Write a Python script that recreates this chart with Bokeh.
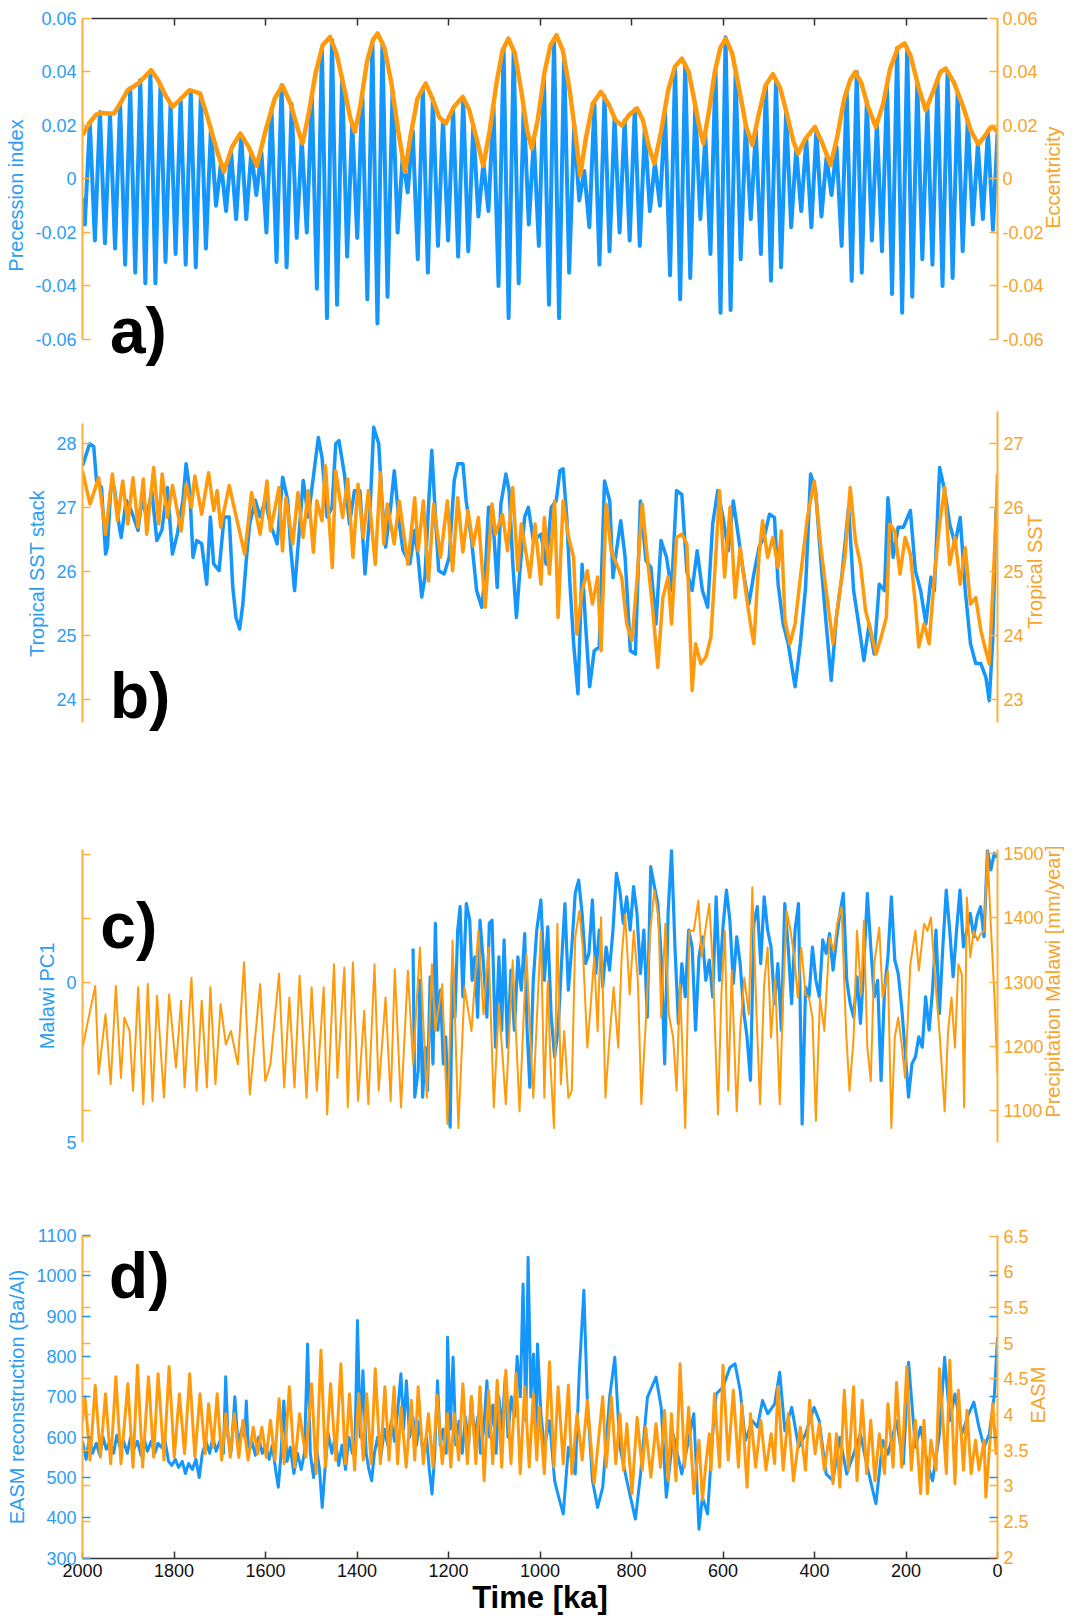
import math
import numpy as np
from bokeh.plotting import figure
from bokeh.models import Range1d, LinearAxis, FixedTicker, Label
from bokeh.layouts import column
from bokeh.embed import file_html
from bokeh.resources import INLINE

# ---------------------------------------------------------------- data
time_ticks = [2000, 1800, 1600, 1400, 1200, 1000, 800, 600, 400, 200, 0]

# a) eccentricity (ka, value)
ecc_t = [2000,1985,1970,1961,1945,1931,1915,1901,1878,1865,1850,1835,1818,1803,1785,1766,1743,1725,1705,1691,
         1673,1655,1637,1619,1600,1580,1563,1545,1530,1519,1505,1490,1475,1459,1445,1428,1415,1405,1393,1378,
         1365,1355,1340,1325,1310,1295,1283,1268,1250,1235,1220,1206,1188,1169,1155,1140,1124,1110,1095,1082,
         1069,1055,1040,1028,1018,1005,990,977,964,950,935,922,912,900,885,867,850,835,821,805,
         788,775,762,750,735,720,705,690,675,660,650,643,630,618,606,594,580,565,550,536,
         522,507,491,475,460,446,436,420,399,382,365,350,335,322,311,298,283,266,250,235,
         218,203,190,172,157,140,125,113,95,75,58,42,28,15,10,0]
ecc_v = [0.0164,0.021,0.024,0.0248,0.0245,0.0245,0.029,0.0332,0.0357,0.038,0.0407,0.037,0.031,0.027,0.030,0.0332,0.032,0.022,0.010,0.0027,
         0.012,0.017,0.012,0.0049,0.018,0.030,0.035,0.028,0.019,0.0133,0.025,0.040,0.050,0.0531,0.047,0.034,0.023,0.0176,0.027,0.044,
         0.052,0.0544,0.049,0.036,0.018,0.0027,0.016,0.030,0.0357,0.030,0.023,0.0207,0.027,0.0307,0.026,0.016,0.0049,0.018,0.036,0.048,
         0.0525,0.047,0.032,0.018,0.0114,0.022,0.040,0.050,0.0538,0.048,0.033,0.016,0.0014,0.015,0.028,0.0326,0.028,0.022,0.020,0.024,
         0.0264,0.022,0.012,0.0058,0.018,0.033,0.042,0.045,0.040,0.027,0.018,0.0133,0.026,0.040,0.049,0.0525,0.047,0.034,0.020,0.0127,
         0.024,0.035,0.0392,0.034,0.024,0.014,0.0095,0.015,0.0195,0.013,0.0052,0.016,0.030,0.037,0.040,0.036,0.027,0.0195,0.028,0.041,
         0.049,0.0507,0.046,0.034,0.0257,0.033,0.040,0.0413,0.036,0.027,0.018,0.013,0.016,0.0193,0.0195,0.0176]

# a) precession index: successive extremes, sampled every half cycle from 1995 ka to 10 ka
prec_sample_t = list(np.linspace(1995.0, 9.9, 181))
prec_v = [-0.017,0.021,-0.023,0.025,-0.024,0.024,-0.026,0.028,-0.032,0.034,
          -0.035,0.037,-0.039,0.040,-0.039,0.035,-0.031,0.028,-0.028,0.030,
          -0.032,0.033,-0.033,0.031,-0.026,0.019,-0.010,0.006,-0.012,0.010,
          -0.015,0.016,-0.015,0.010,-0.006,0.010,-0.020,0.026,-0.031,0.035,
          -0.033,0.028,-0.022,0.015,-0.020,0.031,-0.041,0.049,-0.052,0.052,
          -0.047,0.038,-0.029,0.021,-0.022,0.032,-0.045,0.051,-0.054,0.051,
          -0.044,0.033,-0.020,0.008,-0.005,0.018,-0.030,0.034,-0.035,0.030,
          -0.025,0.022,-0.023,0.026,-0.029,0.030,-0.027,0.020,-0.014,0.006,
          -0.012,0.027,-0.040,0.049,-0.052,0.048,-0.039,0.027,-0.017,0.015,
          -0.025,0.038,-0.047,0.052,-0.052,0.046,-0.035,0.020,-0.008,0.003,
          -0.018,0.028,-0.032,0.031,-0.027,0.023,-0.020,0.022,-0.023,0.026,
          -0.025,0.019,-0.012,0.006,-0.010,0.025,-0.036,0.042,-0.045,0.043,
          -0.037,0.027,-0.015,0.016,-0.028,0.041,-0.050,0.053,-0.049,0.040,
          -0.030,0.020,-0.015,0.018,-0.028,0.035,-0.038,0.037,-0.033,0.025,
          -0.018,0.011,-0.012,0.015,-0.018,0.018,-0.014,0.008,-0.006,0.012,
          -0.025,0.033,-0.038,0.040,-0.035,0.029,-0.023,0.021,-0.027,0.035,
          -0.043,0.049,-0.050,0.049,-0.044,0.036,-0.030,0.027,-0.032,0.037,
          -0.040,0.040,-0.037,0.032,-0.027,0.022,-0.017,0.013,-0.015,0.018,
          -0.019]
prec_t = [2000.0] + prec_sample_t + [0.0]
prec_y = [-0.007] + prec_v + [0.017]

# b) tropical SST stack (left axis) and tropical SST (right axis), (ka, degC)
sst_stack = [(2000,27.65),(1984.5,27.99),(1975.5,27.95),(1969.5,27.42),(1958.5,27.31),(1949.5,26.27),(1945.5,26.38),
             (1938.5,27.26),(1930.5,27.31),(1919.5,26.69),(1915.5,26.53),(1904.5,27.11),(1893.5,26.95),(1878.5,26.64),
             (1870.5,27.11),(1859.5,26.85),(1848.5,27.26),(1837.5,26.48),(1826.5,26.64),(1814.5,27.31),(1803.5,26.27),
             (1792.5,26.59),(1780.5,27.11),(1773.5,27.68),(1765.5,27.26),(1758.5,26.22),(1750.5,26.48),(1739.5,26.43),
             (1728.5,25.80),(1720.5,26.85),(1713.5,26.12),(1701.5,26.01),(1690.5,26.85),(1679.5,26.85),(1671.5,25.75),
             (1664.5,25.28),(1656.5,25.10),(1649.5,25.49),(1641.5,26.22),(1634.5,26.74),(1622.5,27.11),(1611.5,26.85),
             (1600.5,27.11),(1589.5,26.74),(1574.5,26.43),(1562.5,27.47),(1551.5,27.11),(1544.5,26.33),(1536.5,25.70),
             (1529.5,26.33),(1517.5,27.42),(1506.5,26.85),(1495.5,27.47),(1484.5,28.09),(1476.5,27.78),(1465.5,26.85),
             (1454.5,27.00),(1446.5,27.99),(1439.5,28.04),(1427.5,27.52),(1416.5,26.74),(1405.5,27.26),(1393.5,27.26),
             (1382.5,25.96),(1371.5,26.95),(1363.5,28.25),(1352.5,27.99),(1345.5,27.11),(1337.5,26.38),(1326.5,27.00),
             (1318.5,27.57),(1307.5,26.74),(1299.5,26.33),(1284.5,26.12),(1273.5,26.64),(1266.5,26.22),(1258.5,25.60),
             (1251.5,25.91),(1243.5,27.05),(1236.5,27.89),(1228.5,26.85),(1221.5,26.01),(1209.5,25.96),(1198.5,26.22),
             (1187.5,27.42),(1179.5,27.68),(1168.5,27.68),(1161.5,27.11),(1149.5,26.48),(1138.5,25.70),(1127.5,25.44),
             (1119.5,25.96),(1112.5,27.00),(1104.5,27.00),(1093.5,25.75),(1085.5,27.05),(1074.5,27.52),(1067.5,27.26),
             (1059.5,26.12),(1051.5,25.28),(1044.5,25.96),(1033.5,26.85),(1025.5,27.00),(1014.5,26.48),(1006,26.53),
             (998,26.58),(986.5,26.11),(975.5,27.00),(964.5,27.10),(956.5,27.57),(949.5,27.60),(941.5,26.84),(934.5,25.80),
             (926.5,24.87),(917,24.09),(908,26.11),(900.5,25.18),(891.5,24.20),(881.5,24.76),(870.5,24.82),(859,27.41),
             (847.5,27.10),(840.5,25.90),(833,26.32),(823.5,26.79),(814,26.22),(802.5,24.76),(791.5,24.71),(780.5,27.10),
             (768.5,26.17),(757.5,26.06),(746.5,25.18),(735.5,26.48),(723.5,26.22),(712.5,25.70),(701.5,27.26),(690,27.20),
             (679,26.00),(667.5,25.70),(656.5,26.32),(645,25.70),(633.5,25.44),(622.5,26.74),(611.5,27.26),(600,26.84),
             (588.5,26.32),(577.5,27.10),(566,26.53),(555,25.96),(543.5,25.49),(532.5,25.96),(521,26.38),(510,26.53),
             (498.5,26.89),(487.5,26.84),(479.5,25.80),(468.5,25.18),(457.5,24.87),(442.5,24.20),(431,24.87),(419.5,25.75),
             (408.5,27.52),(397.5,27.26),(385.5,26.11),(374.5,25.18),(363.5,24.30),(352,25.29),(340.5,25.91),(325.5,27.00),
             (314.5,25.70),(303.5,25.18),(292,24.61),(280.5,25.18),(269.5,24.71),(258.5,25.80),(247,25.70),(239.5,27.15),
             (228,26.22),(217,26.69),(205.5,26.69),(190.5,26.95),(179.5,26.01),(168,25.70),(156.5,25.18),(145.5,25.91),
             (138,25.70),(126.5,27.62),(115.5,27.26),(104.5,26.74),(93,26.43),(81.5,26.84),(70.5,25.70),(59,24.87),
             (47.5,24.56),(36.5,24.56),(25.5,24.35),(18,23.98),(10.5,24.92),(3,26.95),(0,26.43)]
sst_model = [(2000,26.57),(1983.5,26.05),(1964.7,26.46),(1949.7,25.58),(1934.7,26.52),(1923.4,25.79),(1912.1,26.41),
             (1900.9,25.74),(1889.6,26.46),(1878.3,25.69),(1867.1,26.44),(1859.6,25.58),(1844.5,26.62),(1833.3,25.74),
             (1825.8,26.52),(1814.5,25.84),(1803.2,26.34),(1784.5,25.63),(1773.2,26.36),(1762.0,26.00),(1754.4,26.49),
             (1739.4,25.89),(1724.4,26.54),(1713.1,25.95),(1705.6,26.26),(1698.1,25.69),(1679.3,26.34),(1660.5,25.74),
             (1645.5,25.27),(1630.5,26.23),(1611.7,25.58),(1596.7,26.41),(1589.2,25.63),(1570.4,26.31),(1562.9,25.32),
             (1555.4,26.15),(1540.4,25.43),(1529.1,26.23),(1517.8,25.53),(1506.6,26.26),(1495.3,25.30),(1487.8,26.10),
             (1476.5,25.79),(1469.0,26.65),(1454.0,25.06),(1446.5,26.57),(1431.5,25.84),(1420.2,26.44),(1408.9,25.22),
             (1397.7,26.36),(1386.4,25.53),(1375.1,26.26),(1360.1,25.11),(1348.9,26.54),(1341.4,25.43),(1333.8,26.05),
             (1318.8,25.43),(1307.6,26.10),(1288.8,25.11),(1273.8,26.15),(1266.3,25.32),(1255.0,26.10),(1243.7,24.85),
             (1232.5,26.05),(1217.4,25.22),(1202.4,26.10),(1191.1,25.01),(1179.9,26.15),(1168.6,25.30),(1157.3,25.95),
             (1146.1,25.40),(1134.8,25.84),(1119.8,24.44),(1104.8,26.05),(1097.3,25.58),(1082.2,25.89),(1071.0,25.32),
             (1059.7,26.31),(1048.4,25.01),(1040.9,25.74),(1022.1,24.91),(1010.9,25.74),
             (998,24.80),(990.5,25.84),(979.5,24.96),(968,26.10),(960.5,24.28),(949.5,26.10),(937.5,25.53),(926.5,25.22),
             (919.5,24.02),(908,24.70),(896.5,25.01),(885.5,24.49),(874,24.91),(866.5,23.76),(855.5,26.05),(844.5,25.32),
             (832.5,25.11),(821.5,24.91),(810.5,24.18),(799,23.92),(787.5,24.91),(776.5,26.05),(765.5,25.22),(754,24.44),
             (742.5,23.50),(731.5,24.59),(720,24.91),(712.5,24.18),(701.5,25.53),(690,25.58),(679,25.43),(667.5,23.14),
             (660,23.87),(648.5,23.56),(637.5,23.66),(626.5,23.97),(618.5,24.91),(607.5,26.26),(596.5,24.91),(584.5,26.00),
             (573.5,24.59),(562.5,25.37),(551.5,24.75),(540,24.18),(532.5,23.87),(521,25.27),(513.5,25.79),(502.5,25.22),
             (491,25.53),(479.5,25.06),(472.5,25.63),(464.5,24.23),(453.5,23.87),(442.5,24.18),(427.5,25.11),(415.5,25.84),
             (400.5,26.41),(386,25.37),(374.5,24.70),(359.5,23.87),(344.5,24.70),(333.5,25.22),(322,26.31),(310.5,25.48),
             (299.5,25.11),(288.5,24.39),(277.5,24.08),(265.5,23.71),(254.5,23.97),(243,24.28),(235.5,25.74),(224.5,25.63),
             (213,24.96),(202,25.53),(190.5,25.27),(179.5,24.49),(172,23.82),(160.5,24.18),(149.5,23.87),(138,24.91),
             (126.5,25.74),(115.5,26.31),(104.5,25.11),(93,25.53),(81.5,24.80),(70.5,25.37),(59,24.49),(47.5,24.59),
             (36.5,24.08),(25.5,23.76),(18,23.56),(10.5,24.70),(3,25.84),(0,26.52)]

# c) Malawi PC1 (left axis, reversed) and precipitation Malawi (right axis, mm/year)
malawi_pc1 = [(1277.5,-1.05),(1273.8,3.59),(1266.2,2.76),(1262.5,-0.06),(1256.5,3.59),(1251.2,2.03),(1246,3.38),
              (1240,-0.17),(1234,2.55),(1228.7,-1.84),(1223.4,1.50),(1217.4,0.25),(1211.4,2.55),(1206.2,1.71),
              (1200.9,3.59),(1196.4,4.53),(1191.1,-0.48),(1185.9,1.09),(1179.9,-1.63),(1174.6,-2.36),(1168.6,0.46),
              (1161.1,-2.46),(1153.6,-1.94),(1148.3,-0.06),(1142.3,-0.79),(1136.3,1.09),(1131.1,-1.94),(1123.6,-0.58),
              (1116.1,1.09),(1110.8,-1.84),(1104.8,-1.94),(1097.3,2.03),(1089.8,-0.79),(1083.8,1.50),(1078.5,-1.32),
              (1071,2.03),(1063.5,-0.38),(1056,1.50),(1048.4,-0.79),(1040.9,0.25),(1033.4,-1.52),(1028.2,1.50),
              (1022.2,3.28),(1014.7,-0.06),(1007.1,-1.63),
              (998,-2.57),(990.5,-0.06),(983,-1.73),(975.5,1.09),(968,2.34),(960.5,1.50),(953,-0.58),(945.5,-2.46),
              (938,0.25),(930.5,-1.10),(923,-2.78),(915.5,-3.19),(908,-2.15),(900.5,-0.58),(893,-0.90),(885.5,-2.57),
              (878,-0.27),(870.5,-1.63),(863,0.15),(855.5,-1.10),(848,-0.38),(840.5,-1.63),(833,-3.40),(825.5,-2.88),
              (818,-1.84),(810.5,-2.67),(803,-1.63),(795.5,-2.99),(788,-2.15),(780.5,-0.27),(773,-1.63),(765.5,1.09),
              (758,-3.61),(750,-2.99),(742.5,-2.46),(735,-0.79),(727.5,2.55),(720,-2.15),(712.5,-4.13),(705,-1.10),
              (697.5,1.29),(690,-0.58),(682.5,0.46),(675,-1.63),(667.5,-1.10),(660,1.50),(652.5,-0.79),(645,-1.42),
              (637.5,-0.06),(630,-0.69),(622.5,0.46),(615,-2.67),(607.5,-0.06),(600,-1.73),(592.5,-2.88),(585,-1.94),
              (577.5,0.04),(570,-1.42),(562.5,-0.58),(555,0.88),(547.5,1.71),(540,3.07),(532.5,-1.84),(525,-2.36),
              (517.5,-0.58),(510,-2.67),(502.5,-1.63),(495,-1.10),(487.5,0.67),(480,-0.58),(472.5,1.50),(465,-2.46),
              (457.5,-1.10),(450,0.67),(442.5,-1.63),(435,-2.46),(427,4.43),(419.5,0.15),(412,0.46),(404.5,-1.10),
              (397,-0.06),(389.5,0.46),(382,-1.32),(374.5,-0.90),(367,-1.52),(359.5,-0.38),(352,-1.32),(344.5,-2.15),
              (337,-2.78),(329.5,-0.06),(322,0.67),(314.5,1.09),(307,-0.17),(299.5,1.29),(292,-0.58),(284.5,-2.78),
              (277,-1.10),(269.5,0.46),(262,-0.06),(254.5,3.07),(247,0.25),(239.5,-0.79),(232,-2.67),(224.5,-0.69),
              (217,-0.27),(209.5,0.77),(202,2.13),(194.5,3.59),(187,2.55),(179.5,2.34),(172,1.71),(164.5,2.03),
              (157,0.46),(149.5,1.50),(142,0.25),(134.5,-1.63),(127,0.98),(119.5,-1.10),(112,-2.88),(104.5,-1.63),
              (97,-0.17),(89.5,-1.63),(82,-2.88),(74.5,-1.10),(67,-1.63),(59.5,-2.15),(52,-1.42),(44.5,-2.05),
              (37,-2.36),(29.5,-1.42),(22,-4.13),(14.5,-3.51),(7,-4.03),(0,-3.9)]
malawi_precip = [(2000,1198),(1972.2,1294),(1964.7,1157),(1949.7,1250),(1938.4,1141),(1927.1,1294),(1915.9,1151),
                 (1908.4,1245),(1897.1,1224),(1889.6,1131),(1878.3,1292),(1867.1,1110),(1857.3,1297),(1846.8,1115),
                 (1837.0,1279),(1822.0,1120),(1810.7,1281),(1795.7,1167),(1784.5,1271),(1776.9,1136),(1761.9,1307),
                 (1750.7,1131),(1739.4,1271),(1728.1,1136),(1720.6,1292),(1709.4,1141),(1698.1,1266),(1686.8,1203),
                 (1675.6,1224),(1660.5,1172),(1647.0,1331),(1634.3,1125),(1611.7,1297),(1600.5,1146),(1589.2,1172),
                 (1570.4,1313),(1559.2,1136),(1547.9,1276),(1536.6,1136),(1525.4,1310),(1510.3,1120),(1499.1,1292),
                 (1487.8,1131),(1472.8,1292),(1465.3,1094),(1450.3,1328),(1442.8,1151),(1427.7,1323),(1420.2,1105),
                 (1408.9,1331),(1397.7,1115),(1384.2,1255),(1375.2,1110),(1361.7,1328),(1352.6,1131),(1337.6,1276),
                 (1326.4,1115),(1317.4,1320),(1303.8,1105),(1288.8,1318),(1277.5,1172),(1262.5,1354),(1247.5,1120),
                 (1236.3,1328),(1228.8,1224),(1213.7,1297),(1202.4,1079),(1191.1,1365),(1178.4,1073),(1164.9,1292),
                 (1149.8,1224),(1134.8,1380),(1123.6,1250),(1112.3,1354),(1101.0,1105),(1089.8,1266),(1074.7,1110),
                 (1059.7,1334),(1044.7,1099),(1029.7,1344),(1014.7,1120),
                 (998,1380),(990.5,1120),(983,1302),(977,1172),(969.5,1073),(962,1391),(954.5,1141),(947,1224),(938,1120),
                 (930.5,1131),(923,1370),(914,1411),(906.5,1354),(896.5,1198),(889,1266),(881.5,1339),(874,1224),
                 (866.5,1401),(857,1120),(848,1214),(839,1292),(829,1198),(821.5,1339),(814,1406),(804,1281),(795,1380),
                 (786,1302),(778.5,1110),(769,1235),(759,1380),(750,1443),(741,1401),(735,1245),(726,1391),(718.5,1250),
                 (709,1214),(701.5,1131),(694,1297),(682.5,1073),(673.5,1380),(664,1380),(654,1427),(646.5,1339),
                 (639,1380),(630,1422),(622.5,1328),(611,1094),(603.5,1281),(596,1380),(588.5,1131),(581,1318),(570,1099),
                 (562.5,1224),(553.5,1307),(543.5,1250),(536,1448),(526.5,1245),(519,1110),(510,1297),(502.5,1354),
                 (495,1214),(486,1307),(476,1110),(468.5,1281),(461,1411),(453.5,1385),(444,1339),(436.5,1276),(429,1354),
                 (419.5,1281),(412,1276),(404.5,1245),(397,1084),(388,1276),(378.5,1224),(367,1370),(358,1349),
                 (350.5,1391),(341,1417),(331,1224),(323.5,1131),(314.5,1214),(307,1380),(298,1281),(292,1396),
                 (284.5,1198),(277,1146),(269.5,1328),(258.5,1385),(251,1276),(239.5,1318),(232,1073),(224.5,1214),
                 (217,1245),(209.5,1203),(202,1151),(190.5,1328),(179.5,1380),(172,1318),(160.5,1391),(153,1380),
                 (145.5,1401),(136,1302),(127,1224),(115.5,1099),(108,1224),(100.5,1276),(93,1198),(85.5,1328),(78,1313),
                 (73,1105),(67,1432),(59.5,1339),(52,1380),(44,1365),(37,1375),(29,1380),(22,1505),(14,1380),(6.5,1276),
                 (0,1157)]

# d) EASM reconstruction Ba/Al (left axis) and EASM (right axis)
easm_baal = [(2000,590),(1992,545),(1985,600),(1978,560),(1970,585),(1962,555),(1955,600),(1948,570),(1940,590),
             (1932,560),(1925,605),(1918,575),(1910,590),(1902,560),(1895,600),(1888,570),(1880,590),(1872,555),
             (1865,595),(1858,565),(1850,590),(1842,560),(1835,585),(1828,575),(1820,595),(1812,540),(1805,530),
             (1797,545),(1790,525),(1782,540),(1775,510),(1768,535),(1760,520),(1752,545),(1745,500),(1738,560),
             (1730,590),(1722,560),(1715,600),(1708,565),(1700,590),(1692,560),(1687,750),(1682,600),(1675,565),
             (1667,700),(1660,580),(1652,620),(1645,600),(1642,690),(1637,560),(1630,590),(1622,555),(1615,600),
             (1607,560),(1600,580),(1592,545),(1585,580),(1578,520),(1572,476),(1566,560),(1560,690),(1553,540),
             (1546,575),(1538,510),(1530,560),(1522,520),(1515,560),(1508,831),(1502,560),(1495,500),(1488,570),
             (1482,520),(1476,426),(1470,520),(1463,610),(1455,560),(1448,600),(1440,530),(1433,580),(1425,520),
             (1418,600),(1410,560),(1404,600),(1399,889),(1393,600),(1387,765),(1380,560),(1374,520),(1368,492),
             (1362,560),(1355,600),(1348,550),(1340,620),(1333,580),(1325,640),(1318,590),(1310,680),(1304,757),
             (1298,620),(1292,740),(1285,600),(1278,650),(1270,580),(1263,640),(1256,560),(1248,600),(1242,520),
             (1236,459),(1230,560),(1224,740),(1218,580),(1212,620),(1205,560),(1202,848),(1196,620),(1190,798),
             (1184,580),(1177,640),(1170,560),(1163,650),(1156,580),(1150,700),(1143,600),(1136,650),(1130,560),
             (1123,620),(1116,740),(1110,600),(1103,680),(1096,560),(1090,700),(1083,620),(1076,750),(1070,600),
             (1063,700),(1056,650),(1050,800),(1043,700),(1037,980),(1031,640),(1026,1046),(1020,700),(1014,806),
             (1008,600),(1005.5,831),(998,658),(990.5,575),(979.2,641),(968,492),(959,451),(949.2,410),(937.9,575),
             (922.9,509),(913.9,765),(904.1,964),(896.6,691),(885.3,492),(874.1,426),(862.8,476),(847.8,699),
             (836.5,798),(825.3,575),(810.2,492),(791.5,397),(780.2,509),(765.2,699),(746.4,749),(735.1,674),
             (723.9,451),(708.9,608),(690.1,509),(663.8,658),(652.5,372),(645,451),(633.7,410),(622.5,608),(615,707),
             (600,724),(584.9,773),(573.7,782),(562.4,715),(551.2,592),(536.1,641),(524.9,625),(513.6,691),(502.3,658),
             (487.3,682),(476.1,761),(464.8,616),(449.8,674),(434.7,575),(419.7,608),(400.9,674),(389.7,641),
             (374.7,509),(359.6,492),(344.6,600),(329.6,509),(314.6,558),(299.6,608),(284.5,525),(265.8,435),
             (250.7,592),(239.5,558),(220.7,641),(205.7,534),(194.4,786),(179.4,575),(168.1,625),(153.1,534),
             (141.9,492),(126.8,608),(115.6,798),(104.3,641),(93,707),(78,608),(63,658),(51.7,687),(40.5,625),
             (29.2,575),(17.9,608),(6.7,707),(0,848)]
easm_model = [(2000,3.9),(1994.7,4.25),(1983.5,3.36),(1972.2,4.41),(1960.9,3.40),(1949.7,4.29),(1938.4,3.31),
              (1927.1,4.53),(1915.9,3.31),(1900.9,4.43),(1889.6,3.26),(1879.8,4.69),(1868.6,3.26),(1855.8,4.53),
              (1844.5,3.40),(1834.8,4.57),(1822.0,3.36),(1810.7,4.67),(1799.5,3.40),(1788.2,4.29),(1776.9,3.45),
              (1765.7,4.57),(1754.4,3.40),(1743.1,4.29),(1731.9,3.45),(1724.4,4.15),(1714.6,3.54),(1705.6,4.29),
              (1695.8,3.36),(1686.8,4.01),(1677.1,3.40),(1668.1,4.01),(1658.3,3.40),(1649.3,3.92),(1638.0,3.36),
              (1626.7,3.82),(1617.0,3.45),(1608.0,3.82),(1598.2,3.40),(1589.2,3.92),(1579.4,3.36),(1570.4,4.22),
              (1559.2,3.31),(1547.9,4.39),(1536.6,3.26),(1525.4,4.01),(1511.8,3.40),(1499.1,4.43),(1489.3,3.17),
              (1478.8,4.90),(1469.0,3.26),(1457.8,4.43),(1446.5,3.36),(1435.2,4.71),(1425.5,3.31),(1416.5,4.29),
              (1405.2,3.22),(1396.2,4.29),(1386.4,3.36),(1378.9,4.29),(1369.1,3.31),(1360.1,4.64),(1348.9,3.31),
              (1339.1,4.39),(1330.1,3.36),(1318.8,4.39),(1311.3,3.31),(1303.8,4.10),(1292.5,3.26),(1281.3,4.20),
              (1273.8,3.36),(1266.3,4.39),(1255.0,3.31),(1243.7,4.01),(1234.0,3.26),(1225.0,4.27),(1213.7,3.31),
              (1202.4,4.01),(1194.9,3.26),(1187.4,4.01),(1177.6,3.36),(1168.6,4.43),(1158.8,3.31),(1149.8,4.25),
              (1140.1,3.31),(1131.1,4.39),(1122.1,3.07),(1112.3,4.34),(1103.3,3.31),(1093.5,4.48),(1083.7,3.26),
              (1074.7,4.62),(1063.5,3.31),(1052.2,4.57),(1043.2,3.17),(1033.4,4.39),(1023.6,3.26),(1014.6,4.29),
              (1007.1,3.36),(1001.7,4.10),(990.5,3.17),(979.2,4.74),(969.5,3.26),(960.4,4.39),(949.2,3.31),(937.9,4.41),
              (930.4,3.17),(919.1,4.01),(907.9,3.36),(896.6,4.20),(881.6,3.03),(862.8,4.25),(855.3,3.26),(844.0,4.25),
              (834.3,3.31),(825.3,4.01),(817.7,3.22),(810.2,3.87),(799.0,2.89),(787.7,3.96),(776.4,3.22),(768.9,3.82),
              (757.7,3.12),(746.4,3.87),(736.6,3.26),(727.6,4.06),(720.1,3.07),(712.6,4.01),(702.8,3.07),(693.8,4.71),
              (684.1,3.26),(675.1,4.10),(663.8,2.89),(652.5,3.64),(645.0,2.80),(637.5,3.30),(630.0,3.73),(626.2,3.22),
              (618.7,4.29),(607.5,3.26),(600.0,4.69),(588.7,3.36),(577.4,4.34),(566.2,3.26),(558.7,4.15),(547.4,2.98),
              (539.9,4.01),(528.6,3.26),(517.4,3.92),(506.1,3.22),(494.8,3.73),(487.3,3.31),(479.8,4.39),(468.5,3.22),
              (457.3,4.01),(446.0,3.07),(431.0,3.82),(419.7,3.22),(410.7,4.20),(398.7,3.45),(389.7,3.87),(378.4,3.22),
              (367.2,3.73),(359.6,3.03),(352.1,3.73),(344.6,2.98),(334.9,4.34),(325.8,3.22),(314.6,4.39),(307.1,3.07),
              (295.8,4.20),(286.0,3.17),(277.0,3.92),(268.0,3.07),(258.3,3.73),(247.0,3.17),(239.5,4.15),(228.2,3.26),
              (220.7,4.45),(209.4,3.26),(198.2,4.67),(188.4,3.22),(179.4,3.92),(168.1,2.89),(160.6,3.92),(153.1,2.89),
              (145.6,3.64),(134.3,3.22),(126.8,4.64),(111.8,3.17),(104.3,4.76),(93.0,3.03),(85.5,4.34),(74.3,3.22),
              (66.8,4.06),(57.7,3.17),(48.0,3.64),(40.5,3.22),(29.2,3.64),(25.5,2.84),(10.4,4.15),(3.0,3.45),(0,3.8)]

# axis ticks
a_ticks = [-0.06, -0.04, -0.02, 0, 0.02, 0.04, 0.06]
a_labels = ["-0.06", "-0.04", "-0.02", "0", "0.02", "0.04", "0.06"]
b_left_ticks = [24, 25, 26, 27, 28]
b_right_ticks = [23, 24, 25, 26, 27]
c_left_labels_at = [0, 5]
c_left_marks = [-4, -2, 0, 4]
c_right_ticks = [1100, 1200, 1300, 1400, 1500]
d_left_ticks = [300, 400, 500, 600, 700, 800, 900, 1000, 1100]
d_right_ticks = [2, 2.5, 3, 3.5, 4, 4.5, 5, 5.5, 6, 6.5]

# ---------------------------------------------------------------- style
FONT = "Liberation Sans"
BLUE = "#1596FA"
ORANGE = "#FF9A0D"
BLUE_T = "#2A9DF4"
ORANGE_T = "#F7A427"
SPINE = "#FDB03E"
W = 1078


def unzip(pairs):
    return [a for a, _ in pairs], [b for _, b in pairs]


def base(height, top, bottom, yl, yr):
    p = figure(width=W, height=height, x_range=Range1d(2000, 0), y_range=Range1d(*yl),
               x_axis_location=None, y_axis_location=None, output_backend="svg",
               toolbar_location=None, min_border_left=82, min_border_right=W - 999,
               min_border_top=top, min_border_bottom=bottom)
    p.extra_y_ranges = {"r": Range1d(*yr)}
    p.outline_line_color = None
    p.grid.visible = False
    p.background_fill_color = "white"
    p.border_fill_color = "white"
    return p


def yaxis(title, label_color, ticks, range_name=None, overrides=None,
          tick_color=SPINE, minor=None, minor_color=None, bounds=None, ls=6, ts=5):
    kw = {}
    if range_name:
        kw["y_range_name"] = range_name
    tk = FixedTicker(ticks=ticks, minor_ticks=minor or [])
    ax = LinearAxis(ticker=tk, **kw)
    if title:
        ax.axis_label = title
    ax.axis_line_color = SPINE
    ax.axis_line_width = 2
    ax.major_tick_line_color = tick_color
    ax.major_tick_line_width = 1.5
    ax.major_tick_in = 8
    ax.major_tick_out = 0
    ax.minor_tick_line_color = minor_color
    ax.minor_tick_line_width = 1.5
    ax.minor_tick_in = 8
    ax.minor_tick_out = 0
    ax.major_label_text_color = label_color
    ax.major_label_text_font = FONT
    ax.major_label_text_font_size = "18px"
    ax.major_label_standoff = ls
    ax.axis_label_text_color = label_color
    ax.axis_label_text_font = FONT
    ax.axis_label_text_font_size = "20px"
    ax.axis_label_text_font_style = "normal"
    ax.axis_label_standoff = ts
    if overrides:
        ax.major_label_overrides = overrides
    if bounds:
        ax.bounds = bounds
    return ax


def right_title(p, text, start, color, standoff=7):
    """Right-hand axis title reading bottom-to-top; it starts at `start` (right-range units)."""
    ax = LinearAxis(ticker=FixedTicker(ticks=[start]), y_range_name="r")
    ax.major_label_overrides = {start: text}
    ax.major_label_orientation = math.pi / 2
    ax.axis_line_color = None
    ax.major_tick_line_color = None
    ax.minor_tick_line_color = None
    ax.major_tick_in = 0
    ax.major_tick_out = 0
    ax.major_label_text_color = color
    ax.major_label_text_font = FONT
    ax.major_label_text_font_size = "20px"
    ax.major_label_standoff = standoff
    p.add_layout(ax, "right")


def letter(p, x, y, txt, size="64px"):
    p.add_layout(Label(x=x, y=y, text=txt, text_font=FONT, text_font_size=size,
                       text_font_style="bold", text_color="black", text_baseline="alphabetic",
                       text_align="left"))


# ---------------------------------------------------------------- panel a
pa = base(375, 18, 3, (-0.07234, 0.06), (-0.07234, 0.06))
ov = {t: s for t, s in zip(a_ticks, a_labels)}
pa.add_layout(yaxis("Precession index", BLUE_T, a_ticks, overrides=ov, bounds=(-0.06, 0.06)), "left")
pa.add_layout(yaxis(None, ORANGE_T, a_ticks, range_name="r", overrides=ov, bounds=(-0.06, 0.06), ls=5), "right")
right_title(pa, "Eccentricity", -0.0186, ORANGE_T, standoff=7)
top_ax = LinearAxis(ticker=FixedTicker(ticks=time_ticks[1:-1]))
top_ax.axis_line_color = "#333333"
top_ax.axis_line_width = 1.5
top_ax.major_tick_line_color = "#333333"
top_ax.major_tick_line_width = 1.5
top_ax.major_tick_in = 7
top_ax.major_tick_out = 0
top_ax.minor_tick_line_color = None
top_ax.major_label_text_font_size = "8px"
top_ax.major_label_overrides = {t: "" for t in time_ticks[1:-1]}
top_ax.major_label_standoff = 0
top_ax.bounds = (22, 1980)
pa.add_layout(top_ax, "above")
pa.line(prec_t, prec_y, line_color=BLUE, line_width=4, line_join="round")
pa.line(ecc_t, ecc_v, line_color=ORANGE, line_width=4.5, line_join="round", y_range_name="r")
letter(pa, 1940, -0.0568, "a)")

# ---------------------------------------------------------------- panel b
pb = base(410, 36, 50, (23.438, 28.495), (22.438, 27.495))
pb.add_layout(yaxis("Tropical SST stack", BLUE_T, b_left_ticks, bounds=(23.641, 28.30)), "left")
pb.add_layout(yaxis(None, ORANGE_T, b_right_ticks, range_name="r", bounds=(22.641, 27.495)), "right")
right_title(pb, "Tropical SST", 24.10, ORANGE_T, standoff=9)
bx, by = unzip(sst_stack)
ox, oy = unzip(sst_model)
pb.line(bx, by, line_color=BLUE, line_width=3.5, line_join="round")
pb.line(ox, oy, line_color=ORANGE, line_width=3.5, line_join="round", y_range_name="r")
letter(pb, 1940, 24.06, "b)")

# ---------------------------------------------------------------- panel c
pc = base(410, 64, 53, (5.009, -4.147), (1050.3, 1506.7))
pc.add_layout(yaxis("Malawi PC1", BLUE_T, c_left_labels_at, tick_color=None,
                    minor=c_left_marks, minor_color=SPINE), "left")
pc.add_layout(yaxis(None, ORANGE_T, c_right_ticks, range_name="r"), "right")
right_title(pc, "Precipitation Malawi [mm/year]", 1089, ORANGE_T, standoff=7)
cx, cy = unzip(malawi_pc1)
mx, my = unzip(malawi_precip)
pc.line(cx, cy, line_color=BLUE, line_width=3.2, line_join="round")
pc.line(mx, my, line_color=ORANGE, line_width=2, line_join="round", y_range_name="r")
letter(pc, 1961, -1.75, "c)")

# ---------------------------------------------------------------- panel d
yl_d = (299.3, 1100.0)
yr_d = (1.98, 6.51)
k = (yl_d[1] - yl_d[0]) / (yr_d[1] - yr_d[0])
left_marks_from_right = [yl_d[0] + (r - yr_d[0]) * k for r in d_right_ticks]
right_marks_from_left = [yr_d[0] + (l - yl_d[0]) / k for l in d_left_ticks[1:-1]]
pd_ = base(423, 40, 60, yl_d, yr_d)
pd_.add_layout(yaxis("EASM reconstruction (Ba/Al)", BLUE_T, d_left_ticks, tick_color=BLUE,
                     minor=left_marks_from_right, minor_color=SPINE), "left")
pd_.add_layout(yaxis(None, ORANGE_T, d_right_ticks, range_name="r",
                     overrides={2: "2", 3: "3", 4: "4", 5: "5", 6: "6"},
                     minor=right_marks_from_left, minor_color=BLUE), "right")
right_title(pd_, "EASM", 3.875, ORANGE_T, standoff=7)
bot = LinearAxis(ticker=FixedTicker(ticks=time_ticks), axis_label="Time [ka]")
bot.axis_line_color = "#333333"
bot.axis_line_width = 1.5
bot.major_tick_line_color = "#333333"
bot.major_tick_line_width = 1.5
bot.major_tick_in = 7
bot.major_tick_out = 0
bot.minor_tick_line_color = None
bot.major_label_text_font = FONT
bot.major_label_text_font_size = "18px"
bot.major_label_text_color = "#111111"
bot.major_label_standoff = 5
bot.axis_label_text_font = FONT
bot.axis_label_text_font_size = "31px"
bot.axis_label_text_font_style = "bold"
bot.axis_label_text_color = "black"
bot.axis_label_standoff = 0
pd_.add_layout(bot, "below")
ex, ey = unzip(easm_baal)
fx, fy = unzip(easm_model)
pd_.line(ex, ey, line_color=BLUE, line_width=3, line_join="round")
pd_.line(fx, fy, line_color=ORANGE, line_width=3, line_join="round", y_range_name="r")
letter(pd_, 1942, 1000, "d)")

layout = column(pa, pb, pc, pd_, spacing=0)
open("out.html", "w").write(file_html(layout, INLINE))
